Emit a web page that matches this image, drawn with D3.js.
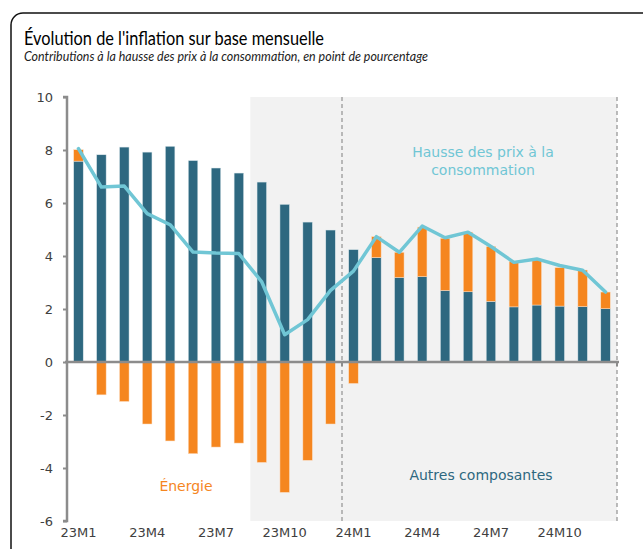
<!DOCTYPE html>
<html lang="fr">
<head>
<meta charset="UTF-8">
<title>Évolution de l'inflation sur base mensuelle</title>
<script src="https://d3js.org/d3.v7.min.js"></script>
<style>
html, body {margin: 0; padding: 0; background: #fff; overflow: hidden}
</style>
</head>
<body>
<div id="chart"></div>
<script>
// données (points de pourcentage)
const mois = ["23M1","23M2","23M3","23M4","23M5","23M6","23M7","23M8","23M9","23M10","23M11","23M12",
              "24M1","24M2","24M3","24M4","24M5","24M6","24M7","24M8","24M9","24M10","24M11","24M12"];
const autres = [7.58, 7.82, 8.11, 7.92, 8.14, 7.60, 7.32, 7.13, 6.79, 5.95, 5.28, 4.98,
                4.24, 3.94, 3.19, 3.22, 2.70, 2.65, 2.29, 2.08, 2.15, 2.11, 2.09, 2.01];
const energie = [0.43, -1.24, -1.49, -2.34, -2.98, -3.46, -3.21, -3.06, -3.79, -4.92, -3.71, -2.34,
                 -0.81, 0.79, 0.95, 1.87, 1.97, 2.25, 2.07, 1.71, 1.71, 1.45, 1.38, 0.63];
const inflation = [8.05, 6.60, 6.64, 5.60, 5.18, 4.15, 4.11, 4.09, 3.02, 1.03, 1.60, 2.70,
                   3.43, 4.73, 4.14, 5.13, 4.69, 4.90, 4.36, 3.76, 3.89, 3.64, 3.46, 2.64];
const ticksX = ["23M1","23M4","23M7","23M10","24M1","24M4","24M7","24M10"];
const ticksY = [-6, -4, -2, 0, 2, 4, 6, 8, 10];

const W = 643, H = 549;
const bleu = "#2e6880", orange = "#f5861f", ciel = "#70c6d5", gris = "#8c8c8c";

const svg = d3.select("#chart").append("svg")
    .attr("width", W).attr("height", H);

// cadre arrondi
svg.append("path")
    .attr("d", "M11,549 V25 A12,12 0 0 1 23,13 H643")
    .attr("fill", "none").attr("stroke", "#111").attr("stroke-width", 1.5);

svg.append("text")
    .attr("x", 24).attr("y", 45)
    .attr("font-family", "Lato").attr("font-size", 18.5).attr("fill", "#000")
    .attr("textLength", 300).attr("lengthAdjust", "spacingAndGlyphs")
    .text("Évolution de l'inflation sur base mensuelle");
svg.append("text")
    .attr("x", 24).attr("y", 61)
    .attr("font-family", "Lato").attr("font-style", "italic").attr("font-size", 13.5).attr("fill", "#222")
    .attr("textLength", 404).attr("lengthAdjust", "spacingAndGlyphs")
    .text("Contributions à la hausse des prix à la consommation, en point de pourcentage");

const p = 0.585;
const x = d3.scaleBand().domain(mois).range([67, 617]).paddingInner(p).paddingOuter(p / 2);
const y = d3.scaleLinear().domain([-6, 10]).range([521, 97]);
const step = x.step(), bw = x.bandwidth();
const gauche = i => x(mois[i]) - step * p / 2;

// zone grisée (projection)
svg.append("rect")
    .attr("x", gauche(8)).attr("y", y(10))
    .attr("width", x.range()[1] - gauche(8)).attr("height", y(-6) - y(10))
    .attr("fill", "#f2f2f2");

// pointillés
[12, 24].forEach(i => {
    const xx = i < mois.length ? gauche(i) : x.range()[1];
    svg.append("line")
        .attr("x1", xx).attr("x2", xx).attr("y1", y(10)).attr("y2", y(-6))
        .attr("stroke", "#999").attr("stroke-width", 1.3).attr("stroke-dasharray", "4,3");
});

// barres : autres composantes
svg.append("g").selectAll("rect").data(mois).join("rect")
    .attr("x", d => x(d)).attr("width", bw)
    .attr("y", (d, i) => y(autres[i]))
    .attr("height", (d, i) => y(0) - y(autres[i]))
    .attr("fill", bleu).attr("stroke", "#dbe8ec").attr("stroke-width", 0.5);

// barres : énergie (empilée au-dessus si positive)
svg.append("g").selectAll("rect").data(mois).join("rect")
    .attr("x", d => x(d)).attr("width", bw)
    .attr("y", (d, i) => energie[i] >= 0 ? y(autres[i] + energie[i]) : y(0))
    .attr("height", (d, i) => Math.abs(y(0) - y(energie[i])))
    .attr("fill", orange).attr("stroke", "#fbe0c8").attr("stroke-width", 0.5);

// axe Y
const ay = svg.append("g").attr("transform", "translate(67,0)")
    .call(d3.axisLeft(y).tickValues(ticksY).tickSize(4).tickPadding(10).tickFormat(d => String(d)));
ay.select(".domain").attr("stroke", gris).attr("stroke-width", 2.5).attr("d", `M-4,${y(10)}H0V${y(-6)}H-4`);
ay.selectAll(".tick line").attr("stroke", gris).attr("stroke-width", 2);
ay.selectAll(".tick text").attr("font-family", "DejaVu Sans").attr("font-size", 13).attr("fill", "#404040");

// axe X (ligne zéro)
svg.append("line")
    .attr("x1", 65).attr("x2", 619).attr("y1", y(0)).attr("y2", y(0))
    .attr("stroke", gris).attr("stroke-width", 2.5);
[gauche(12), x.range()[1]].forEach(xx => {
    svg.append("line").attr("x1", xx).attr("x2", xx).attr("y1", y(0)).attr("y2", y(0) + 4)
        .attr("stroke", gris).attr("stroke-width", 2);
});

svg.append("g").selectAll("text").data(ticksX).join("text")
    .attr("x", d => x(d) + bw / 2).attr("y", 537)
    .attr("text-anchor", "middle")
    .attr("font-family", "DejaVu Sans").attr("font-size", 13).attr("fill", "#404040")
    .text(d => d);

// courbe d'inflation
const ligne = d3.line()
    .x((d, i) => x(mois[i]) + bw / 2)
    .y(d => y(d));
svg.append("path").datum(inflation)
    .attr("d", ligne)
    .attr("fill", "none").attr("stroke", ciel).attr("stroke-width", 3.5)
    .attr("stroke-linejoin", "round").attr("stroke-linecap", "round");

// étiquettes
const etiq = (txt, xx, yy, col) => svg.append("text")
    .attr("x", xx).attr("y", yy).attr("text-anchor", "middle")
    .attr("font-family", "DejaVu Sans").attr("font-size", 14).attr("fill", col).text(txt);
etiq("Hausse des prix à la", 483, 157, ciel);
etiq("consommation", 483, 175, ciel);
etiq("Énergie", 186, 491, orange);
etiq("Autres composantes", 481, 480, bleu);
</script>
</body>
</html>
